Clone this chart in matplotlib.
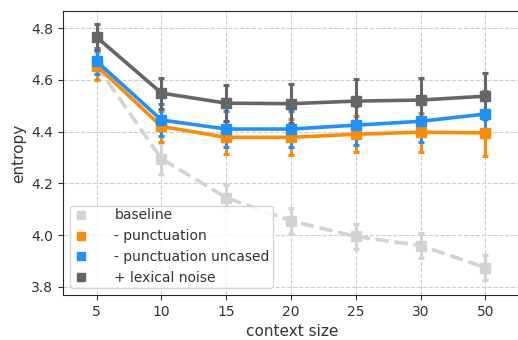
import numpy as np
import matplotlib
matplotlib.use("Agg")
import matplotlib.pyplot as plt
import seaborn as sns

sns.set_style("ticks", {"axes.grid": True, "grid.linestyle": "--"})
plt.rcParams['font.family'] = ['DejaVu Sans']

contexts = ["5", "10", "15", "20", "25", "30", "50"]

baseline = [4.655, 4.295, 4.145, 4.055, 3.995, 3.960, 3.875]
baseline_err = [0.05, 0.06, 0.05, 0.05, 0.05, 0.05, 0.05]

punct = [4.655, 4.420, 4.378, 4.378, 4.390, 4.398, 4.395]
punct_err = [0.055, 0.06, 0.065, 0.07, 0.07, 0.075, 0.09]

uncased = [4.672, 4.445, 4.410, 4.410, 4.425, 4.440, 4.468]
uncased_err = [0.05, 0.06, 0.07, 0.07, 0.075, 0.08, 0.09]

noise = [4.765, 4.549, 4.510, 4.508, 4.518, 4.522, 4.537]
noise_err = [0.05, 0.06, 0.07, 0.075, 0.085, 0.085, 0.09]

series = [
    ("baseline", baseline, baseline_err, "#d3d3d3", "--"),
    ("- punctuation", punct, punct_err, "#ff8c00", "-"),
    ("- punctuation uncased", uncased, uncased_err, "#1e90ff", "-"),
    ("+ lexical noise", noise, noise_err, "#666666", "-"),
]

fig = plt.figure(figsize=(5.18, 3.4), dpi=100)
ax = fig.add_axes([0.1216, 0.1324, 0.884, 0.8352])

x = np.arange(len(contexts))
handles = []
for name, vals, err, col, ls in series:
    ax.errorbar(x, vals, yerr=err, color=col, ls=ls, lw=2.6, marker="s",
                markersize=7, capsize=2.5, elinewidth=2.2, capthick=2.2)
    h, = ax.plot([], [], ls="none", marker="s", markersize=6, color=col, label=name)
    handles.append(h)

ax.set_xticks(x)
ax.set_xticklabels(contexts)
ax.set_xlim(-0.52, 6.55)
ax.set_ylim(3.769, 4.866)
ax.set_yticks([3.8, 4.0, 4.2, 4.4, 4.6, 4.8])
ax.set_xlabel("context size", color="#333333", fontsize=11)
ax.set_ylabel("entropy", color="#333333", fontsize=11)
ax.tick_params(colors="#333333", labelsize=10)
ax.grid(True, ls="--", color="#cccccc", lw=0.8)
ax.legend(handles=handles, loc="lower left", fontsize=10, handlelength=1.2,
          handletextpad=1.8, labelcolor="#333333", borderaxespad=0.5,
          labelspacing=0.5, borderpad=0.2)

fig.savefig("out.png", dpi=100)
